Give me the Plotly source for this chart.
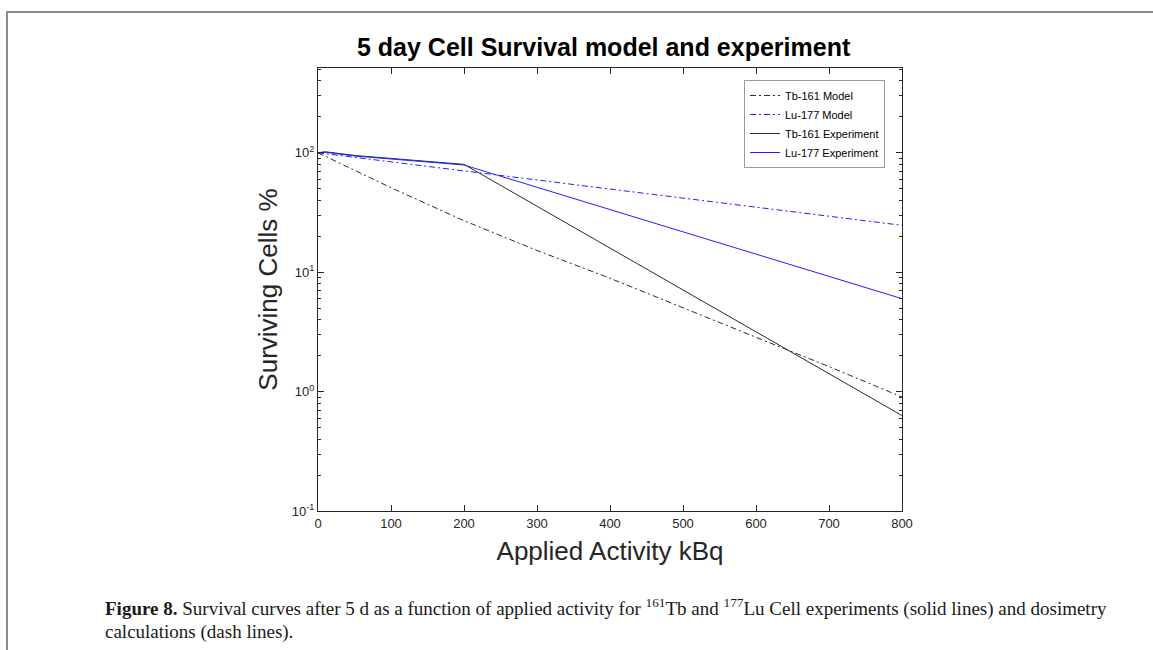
import plotly.graph_objects as go

# ---- data ----
activity_model = [0, 100, 200, 300, 400, 500, 600, 700, 800]
tb161_model = [100, 51, 27, 15.2, 8.9, 5.0, 2.85, 1.62, 0.90]
lu177_model = [100, 84, 70.5, 59, 49.7, 41.7, 35, 29.4, 24.7]

activity_exp = [0, 10, 50, 100, 200, 800]
tb161_exp = [100, 102, 95, 90, 80, 0.63]
lu177_exp = [100, 101, 94, 89, 79, 6.0]

x_ticks = [0, 100, 200, 300, 400, 500, 600, 700, 800]
y_ticks = [0.1, 1, 10, 100]
y_ticktext = ["10<sup>-1</sup>", "10<sup>0</sup>", "10<sup>1</sup>", "10<sup>2</sup>"]
y_minor = [m * d for d in [0.1, 1, 10, 100] for m in range(2, 10)]

# ---- layout geometry (pixels) ----
W, H = 1153, 650
L, R, T, B = 318, 902, 68, 511

def px(xp):
    return (xp - L) / (R - L)

def py(yp):
    return (B - yp) / (B - T)

SANS = "Liberation Sans, Arial, Helvetica, sans-serif"
SERIF = "Liberation Serif, Times New Roman, serif"
AX = "#262626"
DASHDOT = "6px,3px,2px,3px"
BLACK_LINE = "#2b2b2b"
BLUE_LINE = "#2020ff"

fig = go.Figure()
fig.add_trace(go.Scatter(x=activity_model, y=tb161_model, mode="lines", name="Tb-161 Model",
                         line=dict(color=BLACK_LINE, width=1, dash=DASHDOT)))
fig.add_trace(go.Scatter(x=activity_model, y=lu177_model, mode="lines", name="Lu-177 Model",
                         line=dict(color=BLUE_LINE, width=1, dash=DASHDOT)))
fig.add_trace(go.Scatter(x=activity_exp, y=tb161_exp, mode="lines", name="Tb-161 Experiment",
                         line=dict(color=BLACK_LINE, width=1)))
fig.add_trace(go.Scatter(x=activity_exp, y=lu177_exp, mode="lines", name="Lu-177 Experiment",
                         line=dict(color=BLUE_LINE, width=1)))

fig.update_layout(
    width=W, height=H, autosize=False,
    margin=dict(l=L, r=W - R, t=T, b=H - B, pad=0),
    paper_bgcolor="white", plot_bgcolor="white",
    font=dict(family=SANS, color=AX, size=13),
    showlegend=True,
    legend=dict(x=px(885), y=py(80), xanchor="right", yanchor="top",
                bordercolor="#9a9a9a", borderwidth=1, bgcolor="white",
                font=dict(size=11, color="black"), tracegroupgap=0),
)

fig.update_xaxes(
    range=[0, 800], tickvals=x_ticks, ticks="inside", ticklen=6, tickcolor=AX,
    showline=True, linecolor=AX, linewidth=1, mirror="ticks", showgrid=False, zeroline=False,
    tickfont=dict(size=13, color=AX),
    title=dict(text="Applied Activity kBq", font=dict(size=26, color=AX), standoff=12),
)
fig.update_yaxes(
    type="log", range=[-1, 2.71], tickvals=y_ticks, ticktext=y_ticktext,
    ticks="inside", ticklen=6, tickcolor=AX,
    minor=dict(tickvals=y_minor, ticks="inside", ticklen=3, tickcolor=AX, showgrid=False),
    showline=True, linecolor=AX, linewidth=1, mirror="ticks", showgrid=False, zeroline=False,
    tickfont=dict(size=13, color=AX),
    title=dict(text="Surviving Cells %", font=dict(size=26, color=AX), standoff=6),
)

# chart title
fig.add_annotation(text="<b>5 day Cell Survival model and experiment</b>",
                   xref="paper", yref="paper", x=px(604), y=py(47),
                   xanchor="center", yanchor="middle", showarrow=False,
                   font=dict(family=SANS, size=25, color="black"))

# figure caption
fig.add_annotation(
    text="<b>Figure 8.</b> Survival curves after 5 d as a function of applied activity for "
         "<sup>161</sup>Tb and <sup>177</sup>Lu Cell experiments (solid lines) and dosimetry",
    xref="paper", yref="paper", x=px(103), y=py(607), xanchor="left", yanchor="middle",
    showarrow=False, align="left", font=dict(family=SERIF, size=19, color="#1a1a1a"))
fig.add_annotation(
    text="calculations (dash lines).",
    xref="paper", yref="paper", x=px(103), y=py(632), xanchor="left", yanchor="middle",
    showarrow=False, align="left", font=dict(family=SERIF, size=19, color="#1a1a1a"))

# page frame
fig.add_shape(type="line", xref="paper", yref="paper", x0=px(7), x1=px(7), y0=py(12), y1=py(650),
              line=dict(color="#8c8c8c", width=2))
fig.add_shape(type="line", xref="paper", yref="paper", x0=px(6), x1=px(1153), y0=py(12), y1=py(12),
              line=dict(color="#8c8c8c", width=2))

fig.write_html("out.html")
